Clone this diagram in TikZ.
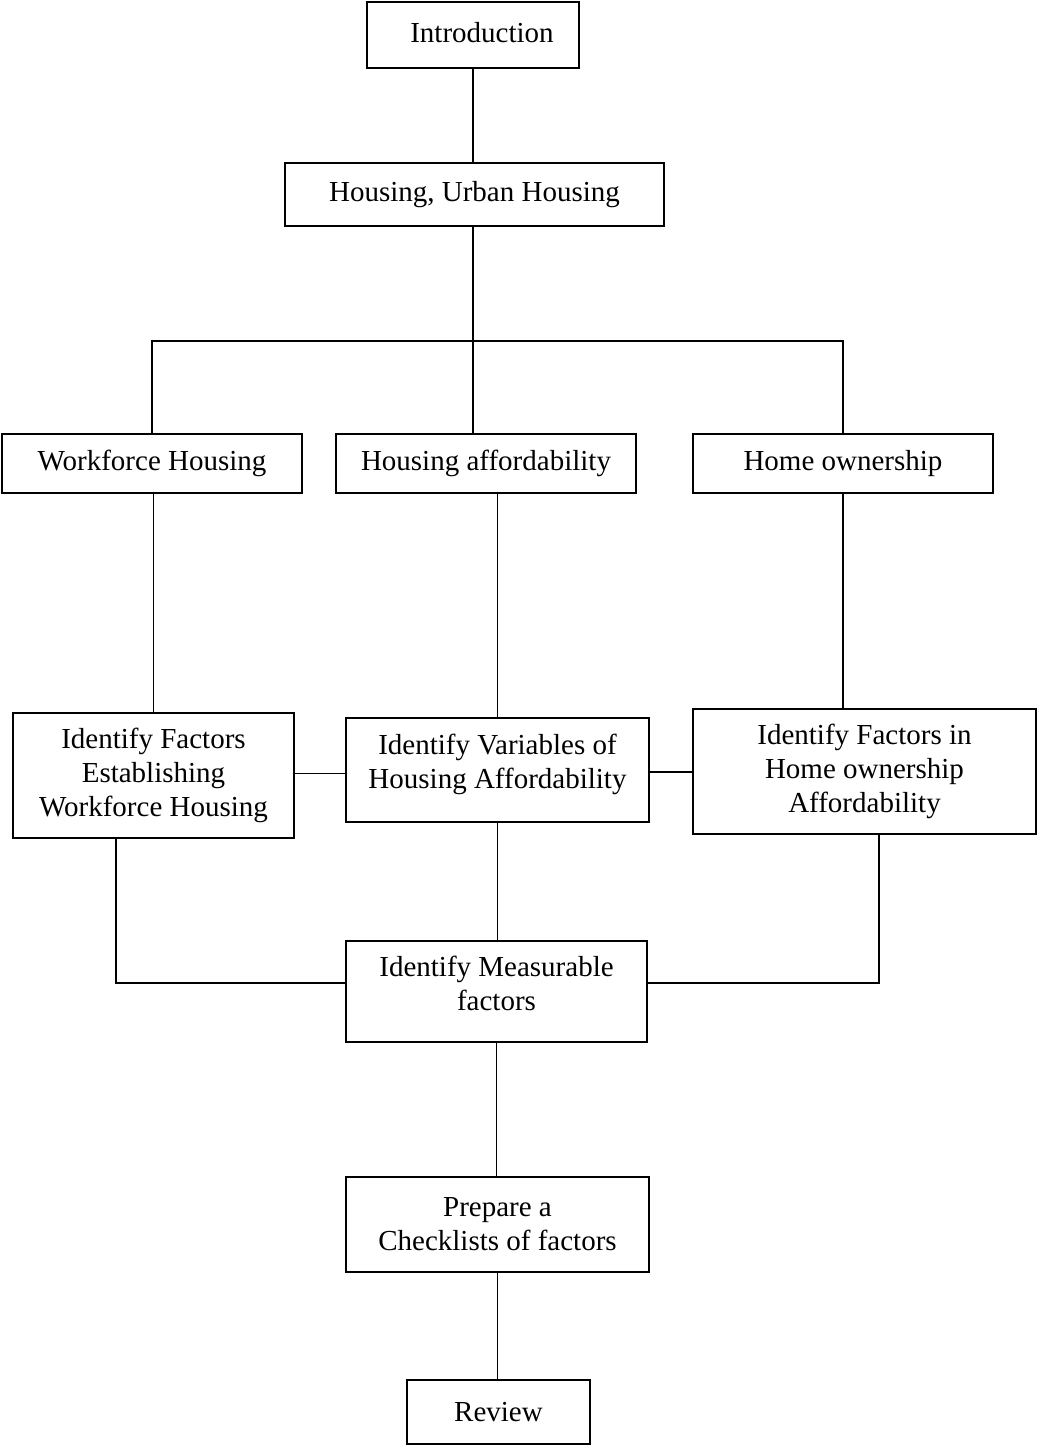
\documentclass[tikz,border=0pt]{standalone}
\usepackage{fontspec}
\setmainfont{Liberation Serif}
\begin{document}
\begin{tikzpicture}[x=1pt,y=-1pt,
  box/.style={draw, line width=1.6pt, inner sep=0pt, align=center,
    font=\fontsize{29}{34}\selectfont},
  link/.style={line width=1.6pt}]
\useasboundingbox (0,0) rectangle (1038,1446);

% boxes
\node[box, minimum width=212pt, minimum height=66pt] (intro) at (473,35) {\hspace*{18pt}Introduction\raisebox{0pt}[0pt][6pt]{}};
\node[box, minimum width=379pt, minimum height=63pt] (hou) at (474.5,194.5) {Housing, Urban Housing};
\node[box, minimum width=300pt, minimum height=59pt] (wf) at (152,463.5) {Workforce Housing};
\node[box, minimum width=300pt, minimum height=59pt] (ha) at (486,463.5) {Housing affordability};
\node[box, minimum width=300pt, minimum height=59pt] (ho) at (843,463.5) {Home ownership};
\node[box, minimum width=281pt, minimum height=125pt] (ifw) at (153.5,775.5) {Identify Factors\\Establishing\\Workforce Housing};
\node[box, minimum width=303pt, minimum height=104pt] (iv) at (497.5,770) {Identify Variables of\\Housing Affordability\raisebox{0pt}[0pt][18pt]{}};
\node[box, minimum width=343pt, minimum height=125pt] (ifh) at (864.5,771.5) {Identify Factors in\\Home ownership\\Affordability};
\node[box, minimum width=301pt, minimum height=101pt] (im) at (496.5,991.5) {Identify Measurable\\factors\raisebox{0pt}[0pt][16pt]{}};
\node[box, minimum width=303pt, minimum height=95pt] (pc) at (497.5,1224.5) {Prepare a\\Checklists of factors};
\node[box, minimum width=183pt, minimum height=64pt] (rev) at (498.5,1412) {Review};

% junction of the three branches
\coordinate (j) at (473,341);

% connectors
\draw[link] (intro.south) -- (intro.south |- hou.north);
\draw[link] (hou.south -| j) -- (j);
\draw[link] (wf.north) -- (wf.north |- j) -- (ho.north |- j) -- (ho.north);
\draw[link] (j) -- (j |- ha.north);
\draw[link] (ifw.north) -- (ifw.north |- wf.south);
\draw[link] (iv.north) -- (iv.north |- ha.south);
\draw[link] (ho.south) -- (ho.south |- ifh.north);
\draw[link] ([yshift=2pt]ifw.east) -- ([yshift=2pt]ifw.east -| iv.west);
\draw[link] ([yshift=-2pt]iv.east) -- ([yshift=-2pt]iv.east -| ifh.west);
\draw[link] (iv.south) -- (iv.south |- im.north);
\draw[link] ([xshift=-37.5pt]ifw.south) |- ([yshift=8.5pt]im.west);
\draw[link] ([xshift=14.5pt]ifh.south) |- ([yshift=8.5pt]im.east);
\draw[link] (im.south) -- (im.south |- pc.north);
\draw[link] (pc.south) -- (pc.south |- rev.north);
\end{tikzpicture}
\end{document}
